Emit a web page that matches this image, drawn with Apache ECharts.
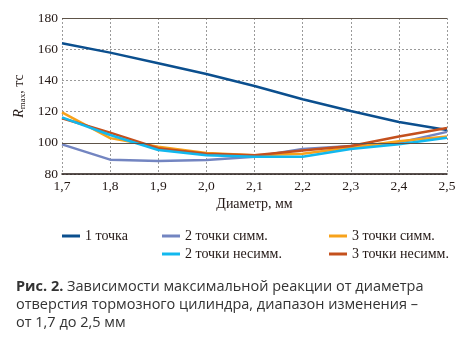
<!DOCTYPE html>
<html>
<head>
<meta charset="utf-8">
<script src="https://cdn.jsdelivr.net/npm/echarts@6/dist/echarts.min.js"></script>
<style>
  html, body { margin: 0; padding: 0; background: #fff; }
  #chart { width: 464px; height: 353px; }
</style>
</head>
<body>
<div id="chart"></div>
<script>
// Диаметр, мм
const diameters = ['1,7', '1,8', '1,9', '2,0', '2,1', '2,2', '2,3', '2,4', '2,5']

// R max, тс
const onePoint = [163.8, 157.8, 151, 144.1, 136.4, 127.9, 120.4, 113.3, 108.2]
const twoSym = [99, 89.2, 88.3, 89, 91, 96, 98, 100, 107]
const threeSym = [119.5, 103, 97.5, 93.5, 92, 93, 97, 101, 104]
const twoAsym = [116.3, 105, 95.4, 92, 91, 91, 96, 99, 103.3]
const threeAsym = [115.7, 106.5, 96.5, 93, 92, 95, 98, 104, 109.5]

const yTicks = [80, 100, 120, 140, 160, 180]
const solidLines = [100, 180]

const serif = '"Liberation Serif", "DejaVu Serif", serif'
const sans = '"Open Sans", "Noto Sans", sans-serif'
const textColor = '#231815'

const chart = echarts.init(document.getElementById('chart'))

const makeLine = (name, data, color, width) => ({
  name,
  type: 'line',
  data,
  symbol: 'none',
  smooth: false,
  z: 3,
  lineStyle: { color, width },
  itemStyle: { color }
})

const legendBase = {
  orient: 'vertical',
  itemWidth: 18,
  itemHeight: 3,
  icon: 'rect',
  itemGap: 4,
  padding: 0,
  textStyle: { fontFamily: serif, fontSize: 14, color: textColor }
}

const option = {
  animation: false,
  grid: { left: 62, right: 17, top: 18, bottom: 179 },
  xAxis: {
    type: 'category',
    data: diameters,
    boundaryGap: false,
    name: 'Диаметр, мм',
    nameLocation: 'middle',
    nameGap: 23,
    nameTextStyle: { fontFamily: serif, fontSize: 14, color: textColor },
    axisLine: { lineStyle: { color: textColor, width: 1.5 } },
    axisTick: { show: false },
    axisLabel: { fontFamily: serif, fontSize: 13.5, color: textColor, margin: 5 },
    splitLine: { show: true, lineStyle: { color: '#9a9a9a', type: [2, 2], width: 1 } }
  },
  yAxis: {
    type: 'value',
    min: yTicks[0],
    max: yTicks[yTicks.length - 1],
    interval: 20,
    name: '{i|R}{s|max}{n|, тс}',
    nameLocation: 'middle',
    nameGap: 35,
    nameTextStyle: {
      rich: {
        i: { fontFamily: serif, fontSize: 14, fontStyle: 'italic', color: textColor },
        s: { fontFamily: serif, fontSize: 9, color: textColor, verticalAlign: 'bottom', padding: [6, 0, 0, 0] },
        n: { fontFamily: serif, fontSize: 14, color: textColor }
      }
    },
    axisLine: { show: false },
    axisTick: { show: false },
    axisLabel: { fontFamily: serif, fontSize: 13.5, color: textColor, margin: 4 },
    splitLine: { show: true, lineStyle: { color: '#9a9a9a', type: [2, 2], width: 1 } }
  },
  legend: [
    { ...legendBase, left: 62, top: 229, data: ['1 точка'] },
    { ...legendBase, left: 162, top: 229, data: ['2 точки симм.', '2 точки несимм.'] },
    { ...legendBase, left: 329, top: 229, data: ['3 точки симм.', '3 точки несимм.'] }
  ],
  series: [
    {
      name: 'solid',
      type: 'line',
      data: [],
      z: 1,
      silent: true,
      markLine: {
        silent: true,
        symbol: 'none',
        label: { show: false },
        lineStyle: { color: '#5e5348', type: 'solid', width: 1 },
        data: solidLines.map(v => ({ yAxis: v }))
      }
    },
    makeLine('1 точка', onePoint, '#0b4f8e', 2.5),
    makeLine('2 точки симм.', twoSym, '#7385c1', 2.5),
    makeLine('3 точки симм.', threeSym, '#f7a21b', 2.5),
    makeLine('3 точки несимм.', threeAsym, '#c4501d', 2.5),
    makeLine('2 точки несимм.', twoAsym, '#12b8ee', 2.5)
  ],
  graphic: [
    {
      type: 'text',
      left: 16,
      top: 279,
      style: {
        text: '{b|Рис. 2.} Зависимости максимальной реакции от диаметра',
        rich: {
          b: { fontFamily: sans, fontSize: 14.5, fontWeight: 'bold', fill: '#333' }
        },
        fontFamily: sans,
        fontSize: 14.5,
        fill: '#333'
      }
    },
    {
      type: 'text',
      left: 16,
      top: 297,
      style: {
        text: 'отверстия тормозного цилиндра, диапазон изменения –',
        fontFamily: sans,
        fontSize: 14.5,
        fill: '#333'
      }
    },
    {
      type: 'text',
      left: 16,
      top: 315,
      style: {
        text: 'от 1,7 до 2,5 мм',
        fontFamily: sans,
        fontSize: 14.5,
        fill: '#333'
      }
    }
  ]
}

chart.setOption(option)
</script>
</body>
</html>
